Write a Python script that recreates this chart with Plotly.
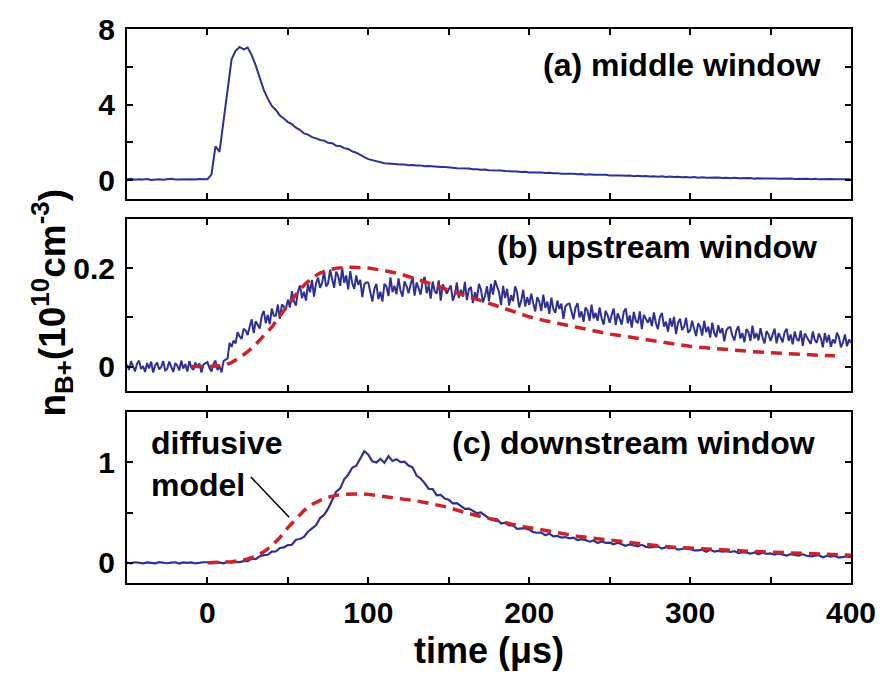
import numpy as np
import plotly.graph_objects as go

# ---------------- data ----------------
T_START = -50.0
DT_A = 2.5     # sample spacing of series (a), µs
DT_B = 1.25    # sample spacing of series (b), µs
DT_C = 2.5     # sample spacing of series (c), µs

# (a) middle window, measured
a_meas = [
    0.05, 0.08, 0.03, 0.06, 0.04, 0.07, 0.02, 0.05, 0.06, 0.03, 0.05, 0.08, 0.04, 0.05, 0.03, 0.06, 0.05, 0.04, 0.07, 0.05, 0.06,
    0.3, 1.8, 1.5, 3.2, 5.0, 6.4, 6.85, 7.05, 6.92, 7.02, 6.62, 6.08, 5.42, 4.78, 4.32, 3.93, 3.72, 3.43, 3.27, 3.08, 2.97, 2.78,
    2.67, 2.48, 2.42, 2.28, 2.22, 2.13, 2.1, 1.98, 1.96, 1.83, 1.81, 1.7, 1.66, 1.53, 1.46, 1.33, 1.23, 1.12, 1.06, 0.98, 0.96,
    0.9, 0.89, 0.86,
    0.85, 0.83, 0.84, 0.80, 0.81, 0.78, 0.79, 0.75, 0.76, 0.73, 0.73, 0.70, 0.71, 0.67,
    0.67, 0.64, 0.64, 0.61, 0.62, 0.58, 0.59, 0.56, 0.57, 0.53, 0.54, 0.51, 0.52, 0.49, 0.49, 0.46, 0.47, 0.44, 0.45, 0.42,
    0.43, 0.40, 0.41, 0.39, 0.40, 0.37, 0.38, 0.35, 0.36, 0.34, 0.35, 0.32, 0.33, 0.30, 0.32, 0.29, 0.30, 0.27, 0.29, 0.26,
    0.27, 0.25, 0.26, 0.24, 0.25, 0.22, 0.24, 0.21, 0.23, 0.20, 0.22, 0.19, 0.21, 0.18, 0.20, 0.17, 0.19, 0.16, 0.18, 0.15,
    0.17, 0.14, 0.16, 0.14, 0.15, 0.13, 0.15, 0.12, 0.14, 0.11, 0.13, 0.11, 0.12, 0.10, 0.12, 0.09, 0.11, 0.09, 0.10, 0.08,
    0.10, 0.08, 0.09, 0.07, 0.09, 0.07, 0.08, 0.06, 0.08, 0.06, 0.08, 0.05, 0.07, 0.05, 0.07, 0.05, 0.06, 0.04, 0.06, 0.04,
]

# (b) upstream window, measured (one row = 25 µs)
b_meas = [
    0.004, -0.007, 0.011, -0.002, -0.010, 0.006, 0.012, -0.005, 0.001, -0.011, 0.007, -0.004, 0.010, -0.012, 0.002, 0.008, -0.006, -0.001, 0.011, -0.008,
    -0.005, 0.010, -0.001, -0.011, 0.007, 0.002, -0.008, 0.012, -0.004, 0.005, -0.010, 0.011, -0.002, -0.007, 0.008, -0.001, 0.006, -0.012, 0.004, 0.007,
    0.009, -0.003, -0.010, 0.005, 0.012, -0.007, 0.001, -0.012, 0.011, 0.014, 0.016, 0.048, 0.040, 0.053, 0.047, 0.070, 0.061, 0.056, 0.077, 0.073,
    0.064, 0.081, 0.096, 0.068, 0.092, 0.085, 0.077, 0.103, 0.113, 0.088, 0.105, 0.086, 0.118, 0.103, 0.103, 0.126, 0.097, 0.126, 0.122, 0.117,
    0.136, 0.120, 0.153, 0.133, 0.124, 0.152, 0.165, 0.139, 0.152, 0.134, 0.167, 0.151, 0.176, 0.142, 0.169, 0.181, 0.160, 0.170, 0.193, 0.163,
    0.169, 0.197, 0.178, 0.160, 0.193, 0.184, 0.164, 0.200, 0.170, 0.185, 0.157, 0.194, 0.169, 0.158, 0.185, 0.166, 0.176, 0.141, 0.167, 0.171,
    0.170, 0.148, 0.132, 0.158, 0.168, 0.137, 0.152, 0.132, 0.168, 0.163, 0.143, 0.181, 0.151, 0.164, 0.147, 0.179, 0.154, 0.142, 0.173, 0.164,
    0.149, 0.166, 0.182, 0.144, 0.171, 0.159, 0.146, 0.173, 0.182, 0.149, 0.165, 0.138, 0.173, 0.153, 0.148, 0.175, 0.134, 0.167, 0.157, 0.148,
    0.157, 0.165, 0.134, 0.146, 0.171, 0.139, 0.156, 0.142, 0.172, 0.135, 0.157, 0.162, 0.129, 0.151, 0.137, 0.168, 0.157, 0.130, 0.144, 0.163,
    0.133, 0.168, 0.146, 0.175, 0.163, 0.151, 0.125, 0.164, 0.139, 0.158, 0.124, 0.145, 0.133, 0.163, 0.150, 0.120, 0.133, 0.156, 0.122, 0.141,
    0.125, 0.148, 0.129, 0.112, 0.141, 0.132, 0.113, 0.146, 0.119, 0.132, 0.107, 0.140, 0.117, 0.109, 0.134, 0.117, 0.128, 0.097, 0.122, 0.127,
    0.128, 0.109, 0.096, 0.120, 0.129, 0.100, 0.112, 0.091, 0.120, 0.114, 0.093, 0.126, 0.098, 0.109, 0.093, 0.120, 0.098, 0.085, 0.113, 0.104,
    0.089, 0.105, 0.118, 0.084, 0.108, 0.097, 0.085, 0.111, 0.118, 0.088, 0.104, 0.079, 0.111, 0.093, 0.088, 0.112, 0.076, 0.105, 0.097, 0.089,
    0.100, 0.082, 0.110, 0.088, 0.076, 0.101, 0.109, 0.081, 0.091, 0.071, 0.098, 0.081, 0.101, 0.066, 0.089, 0.097, 0.074, 0.081, 0.099, 0.069,
    0.073, 0.093, 0.077, 0.062, 0.088, 0.081, 0.063, 0.093, 0.070, 0.081, 0.059, 0.089, 0.068, 0.060, 0.084, 0.068, 0.078, 0.051, 0.073, 0.079,
    0.080, 0.063, 0.053, 0.073, 0.082, 0.057, 0.068, 0.049, 0.076, 0.070, 0.052, 0.083, 0.057, 0.068, 0.053, 0.078, 0.059, 0.047, 0.072, 0.065,
    0.052, 0.065, 0.077, 0.047, 0.068, 0.059, 0.049, 0.070, 0.077, 0.052, 0.065, 0.045, 0.071, 0.056, 0.052, 0.073, 0.042, 0.067, 0.060, 0.053,
    0.046, 0.071, 0.054, 0.048, 0.067, 0.058, 0.039, 0.068, 0.049, 0.064, 0.040, 0.055, 0.047, 0.069, 0.060, 0.039, 0.049, 0.065, 0.041, 0.055,
    0.048,
]

# (b) diffusive model
b_model_t = [-10, 0, 10, 15, 20, 25, 30, 35, 40, 45, 50, 55, 60, 65, 70, 75, 80, 85, 90,
             100, 110, 120, 130, 140, 150, 160, 170, 180, 190, 200, 210, 220, 230, 240, 250,
             260, 270, 280, 290, 300, 310, 320, 330, 340, 350, 360, 370, 380, 390]
b_model = [0, 0, 0.002, 0.008, 0.018, 0.03, 0.045, 0.062, 0.08, 0.103, 0.125, 0.146, 0.165, 0.18, 0.19, 0.196, 0.2,
           0.201, 0.202,
           0.2, 0.195, 0.188, 0.178, 0.167, 0.155, 0.145, 0.134, 0.123, 0.112, 0.101, 0.093, 0.086, 0.079, 0.072,
           0.066, 0.061, 0.056, 0.051, 0.046, 0.041, 0.038, 0.035, 0.032, 0.03, 0.028, 0.026, 0.025, 0.023, 0.022]

# (c) downstream window, measured (one row = 25 µs)
c_meas = [
    0.003, -0.005, 0.006, -0.001, -0.006, 0.004, 0.001, -0.004, 0.007, -0.002,
    -0.004, 0.002, 0.006, -0.007, 0.004, -0.001, 0.005, -0.006, 0.001, 0.006,
    0.006, -0.003, -0.001, 0.005, -0.004, 0.011, 0.002, 0.010, 0.008, 0.017,
    0.018, 0.041, 0.037, 0.065, 0.076, 0.080, 0.112, 0.113, 0.148, 0.154,
    0.176, 0.180, 0.229, 0.237, 0.257, 0.309, 0.342, 0.373, 0.445, 0.476,
    0.538, 0.626, 0.706, 0.740, 0.830, 0.876, 0.944, 0.964, 1.044, 1.108,
    1.074, 1.008, 0.997, 1.031, 0.993, 1.060, 1.012, 1.029, 1.001, 1.005,
    0.966, 0.948, 0.866, 0.838, 0.792, 0.734, 0.732, 0.670, 0.674, 0.638,
    0.626, 0.590, 0.594, 0.562, 0.537, 0.539, 0.512, 0.493, 0.500, 0.466,
    0.441, 0.440, 0.432, 0.390, 0.398, 0.372, 0.371, 0.338, 0.343, 0.344,
    0.330, 0.305, 0.299, 0.301, 0.274, 0.290, 0.263, 0.267, 0.251, 0.256,
    0.243, 0.251, 0.227, 0.235, 0.226, 0.210, 0.222, 0.198, 0.213, 0.199,
    0.200, 0.184, 0.199, 0.183, 0.169, 0.184, 0.176, 0.164, 0.179, 0.159,
    0.153, 0.160, 0.164, 0.141, 0.156, 0.145, 0.151, 0.131, 0.139, 0.145,
    0.138, 0.124, 0.124, 0.130, 0.111, 0.129, 0.112, 0.119, 0.111, 0.117,
    0.108, 0.117, 0.098, 0.107, 0.101, 0.091, 0.103, 0.085, 0.100, 0.090,
    0.094, 0.081, 0.094, 0.081, 0.073, 0.086, 0.079, 0.072, 0.085, 0.070,
    0.064, 0.072, 0.076, 0.056, 0.070, 0.061, 0.069, 0.052, 0.060, 0.065,
    0.055,
]

# (c) diffusive model
c_model_t = [0, 5, 10, 15, 20, 25, 30, 35, 40, 45, 50, 55, 60, 65, 70, 75, 80, 85, 90, 95, 100, 105, 110, 115,
             120, 125, 130, 135, 140, 145, 150,
             160, 170, 180, 190, 200, 210, 220, 230, 240, 250, 260, 270, 280, 290, 300, 310, 320, 330, 340, 350,
             360, 370, 380, 390, 400]
c_model = [0, 0.002, 0.005, 0.012, 0.022, 0.038, 0.065, 0.11, 0.17, 0.25, 0.35, 0.44, 0.52, 0.58, 0.62, 0.65, 0.67,
           0.68, 0.685, 0.685, 0.68, 0.67, 0.66, 0.65, 0.64, 0.63, 0.615, 0.6, 0.585, 0.57, 0.55,
           0.5, 0.46, 0.42, 0.38, 0.35, 0.32, 0.29, 0.265, 0.245, 0.225, 0.205, 0.185, 0.17, 0.155, 0.145, 0.135,
           0.127, 0.12, 0.113, 0.107, 0.1, 0.093, 0.087, 0.08, 0.075]

x_tickvals = [-50, 0, 50, 100, 150, 200, 250, 300, 350, 400]
x_ticktext = ["", "0", "", "100", "", "200", "", "300", "", "400"]
a_tickvals = [0, 2, 4, 6, 8]
a_ticktext = ["0", "", "4", "", "8"]
b_tickvals = [0, 0.1, 0.2]
b_ticktext = ["0", "", "0.2"]
c_tickvals = [0, 0.5, 1]
c_ticktext = ["0", "", "1"]

panel_labels = ["(a) middle window", "(b) upstream window", "(c) downstream window"]

assert len(a_meas) == 181, len(a_meas)
assert len(b_meas) == 361, len(b_meas)
assert len(c_meas) == 181, len(c_meas)
assert len(b_model_t) == len(b_model) and len(c_model_t) == len(c_model)

t_a = T_START + DT_A * np.arange(len(a_meas))
t_b = T_START + DT_B * np.arange(len(b_meas))
t_c = T_START + DT_C * np.arange(len(c_meas))

# ---------------- styling ----------------
BLUE = "#2e3192"
RED = "#cc2229"
FONT = "Liberation Sans, Arial, Helvetica, sans-serif"

W, H = 890, 677
ML, MR, MT, MB = 127, 39, 20, 94
plot_h = H - MT - MB

def ydom(top_px, bot_px):
    return [(H - MB - bot_px) / plot_h, (H - MB - top_px) / plot_h]

fig = go.Figure()
fig.add_trace(go.Scatter(x=t_a, y=a_meas, mode="lines", line=dict(color=BLUE, width=2),
                         xaxis="x", yaxis="y", showlegend=False))
fig.add_trace(go.Scatter(x=t_b, y=b_meas, mode="lines", line=dict(color=BLUE, width=2),
                         xaxis="x2", yaxis="y2", showlegend=False))
fig.add_trace(go.Scatter(x=b_model_t, y=b_model, mode="lines", line=dict(color=RED, width=3.5, dash="11px,7px"),
                         xaxis="x2", yaxis="y2", showlegend=False))
fig.add_trace(go.Scatter(x=t_c, y=c_meas, mode="lines", line=dict(color=BLUE, width=2.2),
                         xaxis="x3", yaxis="y3", showlegend=False))
fig.add_trace(go.Scatter(x=c_model_t, y=c_model, mode="lines", line=dict(color=RED, width=3.5, dash="11px,7px"),
                         xaxis="x3", yaxis="y3", showlegend=False))

tickfont = dict(family=FONT, size=30, color="black", weight="bold")

def xax(show_labels, anchor):
    return dict(range=[-50, 400], tickvals=x_tickvals, ticktext=x_ticktext, showticklabels=show_labels,
                ticks="inside", ticklen=6, tickwidth=1.5, tickcolor="black", mirror="ticks",
                showline=True, linecolor="black", linewidth=2, showgrid=False, zeroline=False,
                tickfont=tickfont, anchor=anchor, domain=[0, 1], ticklabelstandoff=2)

def yax(rng, vals, text, dom, anchor):
    return dict(range=rng, tickvals=vals, ticktext=text, ticks="inside", ticklen=6, tickwidth=1.5,
                tickcolor="black", mirror="ticks", showline=True, linecolor="black", linewidth=2,
                showgrid=False, zeroline=False, tickfont=tickfont, anchor=anchor, domain=dom,
                ticklabelstandoff=4)

fig.update_layout(
    width=W, height=H,
    margin=dict(l=ML, r=MR, t=MT, b=MB),
    paper_bgcolor="white", plot_bgcolor="white",
    xaxis=xax(False, "y"),
    xaxis2=xax(False, "y2"),
    xaxis3=xax(True, "y3"),
    yaxis=yax([-1, 8], a_tickvals, a_ticktext, ydom(20, 193), "x"),
    yaxis2=yax([-0.05, 0.3], b_tickvals, b_ticktext, ydom(213, 388), "x2"),
    yaxis3=yax([-0.2, 1.5], c_tickvals, c_ticktext, ydom(409, 583), "x3"),
)

ann_font = dict(family=FONT, size=32, color="black", weight="bold")

def px_y(py):
    return (H - MB - py) / plot_h

def px_x(px):
    return (px - ML) / (W - ML - MR)

for label, xr, yc in zip(panel_labels, [822, 819, 817], [57, 242, 441]):
    fig.add_annotation(text=label, xref="paper", yref="paper", x=px_x(xr), y=px_y(yc),
                       xanchor="right", yanchor="middle", showarrow=False, font=ann_font)

fig.add_annotation(text="diffusive<br>model", xref="paper", yref="paper", x=px_x(149), y=px_y(462),
                   xanchor="left", yanchor="middle", align="left", showarrow=False, font=ann_font)
fig.add_shape(type="line", xref="x3", yref="y3", x0=27, y0=0.853, x1=50.8, y1=0.452,
              line=dict(color="black", width=1.5))

fig.add_annotation(text="time (μs)", xref="paper", yref="paper", x=0.5, y=px_y(652),
                   xanchor="center", yanchor="middle", showarrow=False,
                   font=dict(family=FONT, size=36, color="black", weight="bold"))
fig.add_annotation(text="n<sub>B+</sub>(10<sup>10</sup>cm<sup>-3</sup>)", xref="paper", yref="paper",
                   x=px_x(52), y=px_y(298), xanchor="center", yanchor="middle", textangle=-90,
                   showarrow=False, font=dict(family=FONT, size=37, color="black", weight="bold"))

fig.write_html("out.html")
